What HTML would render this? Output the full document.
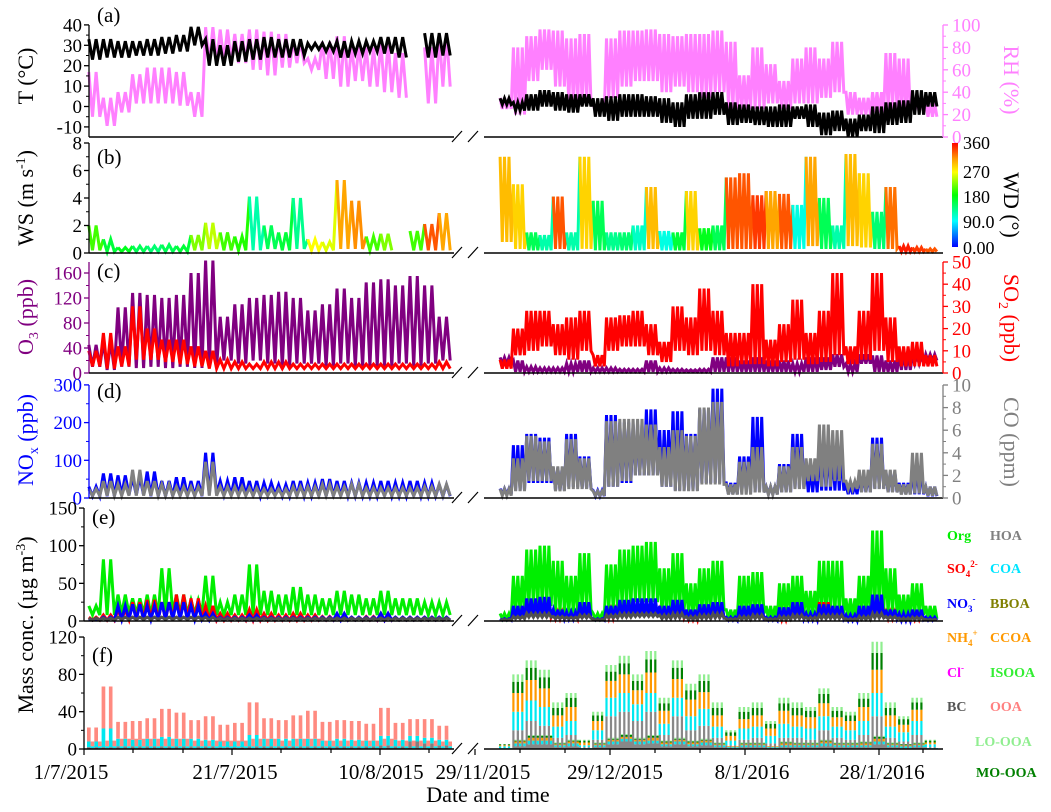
<!DOCTYPE html>
<html><head><meta charset="utf-8"><style>
html,body{margin:0;padding:0;background:#fff;}
svg{display:block;font-family:"Liberation Serif",serif;}
</style></head><body>
<svg id="chart" width="1051" height="812" viewBox="0 0 1051 812" xmlns="http://www.w3.org/2000/svg">
<defs>
<linearGradient id="wdgrad" x1="0" y1="1" x2="0" y2="0">
<stop offset="0" stop-color="#0000ff"/><stop offset="0.25" stop-color="#00ffff"/><stop offset="0.5" stop-color="#00ff00"/><stop offset="0.72" stop-color="#ffff00"/><stop offset="0.85" stop-color="#ff9900"/><stop offset="1" stop-color="#ff0000"/>
</linearGradient>
</defs>
<g id="marks"></g>
<g id="axes"></g>
<g font-family="Liberation Serif, serif" font-size="22">
<text transform="translate(33,76) rotate(-90)" text-anchor="middle">T (°C)</text>
<text transform="translate(33,198) rotate(-90)" text-anchor="middle">WS (m s<tspan font-size="14" dy="-8">-1</tspan><tspan dy="8">)</tspan></text>
<text transform="translate(33,317) rotate(-90)" text-anchor="middle" fill="#800080">O<tspan font-size="14" dy="5">3</tspan><tspan dy="-5"> (ppb)</tspan></text>
<text transform="translate(33,440) rotate(-90)" text-anchor="middle" fill="#0000ff">NO<tspan font-size="14" dy="5">x</tspan><tspan dy="-5"> (ppb)</tspan></text>
<text transform="translate(33,625) rotate(-90)" text-anchor="middle">Mass conc. (µg m<tspan font-size="14" dy="-8">-3</tspan><tspan dy="8">)</tspan></text>
<text transform="translate(1004,80) rotate(90)" text-anchor="middle" fill="#ff80ff">RH (%)</text>
<text transform="translate(1004,205) rotate(90)" text-anchor="middle">WD (°)</text>
<text transform="translate(1004,318) rotate(90)" text-anchor="middle" fill="#ff0000">SO<tspan font-size="14" dy="5">2</tspan><tspan dy="-5"> (ppb)</tspan></text>
<text transform="translate(1004,442) rotate(90)" text-anchor="middle" fill="#808080">CO (ppm)</text>
</g>
<g font-family="Liberation Serif, serif" font-size="14" font-weight="bold">
<text x="947" y="540" fill="#00ee00">Org</text>
<text x="990" y="540" fill="#808080">HOA</text>
<text x="947" y="573" fill="#ff0000">SO<tspan font-size="9" dy="4">4</tspan><tspan font-size="9" dy="-10">2-</tspan></text>
<text x="990" y="573" fill="#00e5ff">COA</text>
<text x="947" y="608" fill="#0000ff">NO<tspan font-size="9" dy="4">3</tspan><tspan font-size="9" dy="-10">-</tspan></text>
<text x="990" y="608" fill="#808000">BBOA</text>
<text x="947" y="642" fill="#ff9900">NH<tspan font-size="9" dy="4">4</tspan><tspan font-size="9" dy="-10">+</tspan></text>
<text x="990" y="642" fill="#ff9900">CCOA</text>
<text x="947" y="677" fill="#ff00ff">Cl<tspan font-size="9" dy="-6">-</tspan></text>
<text x="990" y="677" fill="#33ee33">ISOOA</text>
<text x="947" y="711" fill="#555555">BC</text>
<text x="990" y="711" fill="#ff8080">OOA</text>
<text x="975" y="746" fill="#90ee90">LO-OOA</text>
<text x="976" y="777" fill="#008000">MO-OOA</text>
</g>
</svg>
<script>
const tHiL=[33,33,32,32,33,34,35,39,33,30,32,33,34,33,33,31,31,32,32,32,34,34,null,36,36];
const tLoL=[23,24,24,25,25,26,27,30,20,20,22,23,24,24,25,28,27,24,26,27,26,24,null,24,25];
const rhHiL=[58,35,40,56,62,62,58,40,98,96,92,96,94,92,86,70,85,90,82,80,85,75,null,80,92];
const rhLoL=[18,10,22,30,30,30,28,18,66,68,66,60,55,62,66,60,52,45,50,45,40,35,null,30,45];
const tHiR=[4,2,6,8,7,6,6,4,5,6,6,5,4,2,6,7,7,2,1,0,0,1,0,1,-3,-2,-6,-4,0,2,3,8,7];
const tLoR=[1,-2,-2,0,-2,-3,0,-5,-7,-5,-5,-5,-8,-10,-6,-6,-4,-9,-8,-9,-10,-10,-6,-10,-14,-12,-15,-12,-13,-9,-8,-4,0];
const rhHiR=[35,80,90,96,95,88,92,30,88,95,95,96,92,90,92,92,95,85,55,80,65,50,70,80,70,85,40,35,40,75,70,35,30];
const rhLoR=[25,20,50,60,45,30,30,22,35,45,50,50,40,45,40,35,40,25,25,25,30,25,30,30,35,40,20,20,22,25,20,22,18];
const wsHiL=[2.0,1.0,0.4,0.5,0.5,0.6,0.5,1.3,2.2,1.5,1.2,4.1,2.0,1.5,4.0,1.0,0.8,5.3,3.8,1.2,1.4,null,1.6,2.1,2.9];
const wsLoL=[0.2,0.1,0.1,0.1,0.1,0.1,0.1,0.2,0.3,0.2,0.2,0.2,0.3,0.2,0.3,0.2,0.2,0.3,0.3,0.2,0.2,null,0.2,0.2,0.2];
const wdL=[200,160,170,150,140,150,160,220,240,200,190,120,150,160,130,260,250,300,310,200,220,null,200,330,300];
const wsHiR=[7.0,5.0,1.5,1.3,4.1,1.5,7.0,3.8,1.5,1.5,2.0,4.8,1.6,1.5,4.5,1.8,2.0,5.5,5.8,4.2,4.5,4.3,3.5,7.0,4.0,2.0,7.2,5.8,3.0,4.8,0.5,0.4,0.3];
const wsLoR=[0.8,0.3,0.2,0.2,0.3,0.2,0.3,0.2,0.2,0.2,0.2,0.3,0.2,0.2,0.2,0.2,0.2,0.3,0.3,0.3,0.3,0.3,0.3,0.5,0.3,0.3,0.5,0.4,0.3,0.3,0.1,0.1,0.1];
const wdR=[290,280,150,120,330,120,280,150,130,140,110,290,100,160,280,170,150,330,330,340,300,330,100,300,150,120,290,280,140,320,350,340,330];
const o3HiL=[45,50,105,128,125,120,125,160,180,90,110,120,125,130,120,100,110,135,120,145,150,140,155,140,90];
const o3LoL=[10,5,10,8,10,8,10,8,10,20,15,20,15,10,15,15,10,15,10,10,10,15,10,15,20];
const so2HiL=[10,18,12,30,20,15,15,12,10,6,5,4,5,5,4,4,4,4,4,4,4,4,4,4,5];
const so2LoL=[3,2,3,6,6,5,4,3,2,2,2,2,2,2,2,2,2,2,2,2,2,2,2,2,2];
const o3HiR=[25,20,10,8,8,15,20,8,8,6,6,20,8,6,5,6,25,25,20,25,20,20,15,25,25,30,15,30,28,20,30,28,30];
const o3LoR=[15,2,2,2,2,2,2,2,2,2,2,2,2,2,2,2,2,2,2,2,2,2,2,2,5,10,2,15,2,2,5,15,20];
const so2HiR=[6,20,28,28,22,25,28,8,25,26,28,22,14,30,25,38,28,18,18,40,15,22,33,18,28,45,12,28,45,25,12,14,8];
const so2LoR=[2,8,10,12,8,6,10,3,10,12,12,8,5,10,8,10,8,3,4,4,3,5,6,4,5,8,4,6,10,5,3,3,3];
const noxHiL=[30,65,60,55,70,45,55,45,120,45,55,45,40,35,45,40,50,45,40,40,45,40,45,40,35];
const noxLoL=[5,5,8,8,5,5,5,5,10,8,8,5,8,5,5,5,5,5,5,5,5,5,5,5,5];
const coHiL=[0.8,1.5,1.2,2.5,1.5,1.2,1.0,1.0,3.2,1.0,1.0,0.9,0.8,0.8,1.0,1.0,1.2,1.0,1.2,0.9,0.9,0.9,0.9,1.0,1.2];
const coLoL=[0.2,0.2,0.2,0.2,0.2,0.2,0.2,0.2,0.2,0.2,0.2,0.2,0.2,0.2,0.2,0.2,0.2,0.2,0.2,0.2,0.2,0.2,0.2,0.2,0.2];
const noxHiR=[25,140,170,160,80,170,110,20,220,200,195,235,180,230,170,235,290,40,110,215,30,90,170,80,140,120,35,60,160,70,40,80,30];
const noxLoR=[10,20,40,40,20,30,25,5,30,40,60,60,30,20,20,40,40,10,15,15,10,15,25,15,20,20,10,15,25,15,10,10,5];
const coHiR=[0.8,3.5,5.5,5.0,2.8,5.2,3.5,0.6,6.8,7.0,7.0,6.5,4.5,6.0,5.5,8.0,8.5,1.2,3.2,4.5,1.0,2.8,4.5,3.5,6.5,6.0,1.5,2.5,4.8,2.5,1.2,4.0,1.0];
const coLoR=[0.2,0.6,1.5,1.5,0.6,0.8,0.8,0.2,1.0,1.5,2.0,2.0,1.0,0.6,0.6,1.2,1.2,0.3,0.3,0.5,0.3,0.5,0.8,1.5,1.0,1.5,0.8,0.5,0.8,0.5,0.3,0.4,0.2];
const orgHiL=[20,82,35,30,35,70,35,28,60,25,35,75,40,35,45,35,30,40,35,30,40,30,30,25,25];
const orgLoL=[8,8,10,10,8,10,10,10,8,8,8,8,8,8,8,8,8,8,8,8,8,8,8,8,8];
const so4HiL=[5,8,15,25,28,25,35,30,20,10,8,15,10,8,10,8,6,8,5,6,10,5,5,5,5];
const no3HiL=[3,5,20,22,20,25,25,20,10,5,5,8,5,5,5,5,5,10,5,5,10,5,5,5,5];
const bcHiL=[4,4,5,5,5,5,5,5,5,4,4,4,4,4,4,4,4,4,4,4,4,4,4,4,4];
const specLoL=[1,1,2,2,2,2,2,2,1,1,1,1,1,1,1,1,1,1,1,1,1,1,1,1,1];
const orgHiR=[10,60,95,100,80,60,90,10,75,95,100,105,70,90,50,70,80,15,60,65,20,50,60,40,80,80,30,60,120,70,35,50,20];
const orgLoR=[3,10,20,20,10,10,15,3,15,20,25,25,10,15,8,10,15,3,8,10,3,8,10,8,10,10,5,8,15,10,5,8,3];
const so4HiR=[2,15,25,28,12,10,20,2,15,22,25,25,15,22,10,18,20,3,15,18,3,12,20,8,25,18,5,15,30,12,8,10,3];
const no3HiR=[3,20,30,32,15,12,25,3,20,28,30,30,20,28,15,22,25,5,20,22,5,18,25,10,22,20,8,20,35,15,10,15,5];
const bcHiR=[2,6,10,10,6,5,8,2,8,10,10,10,8,10,6,8,10,3,6,8,3,6,8,5,8,8,3,6,10,6,4,5,2];
const specLoR=[1,3,5,5,3,3,4,1,4,5,6,6,3,4,2,3,4,1,2,3,1,2,3,2,3,3,1,2,4,3,1,2,1];
const hoaHiL=[2,2,3,3,3,3,3,3,3,2,2,3,3,3,3,3,3,3,3,3,4,3,8,6,4];
const hoaLoL=[1,1,1,1,1,1,1,1,1,1,1,1,1,1,1,1,1,1,1,1,1,1,1,1,1];
const coaHiL=[6,20,8,7,8,10,8,8,7,6,6,12,8,8,8,8,6,8,7,6,10,7,6,6,6];
const coaLoL=[2,2,2,2,2,2,2,2,2,2,2,2,2,2,2,2,2,2,2,2,2,2,2,2,2];
const ooaHiL=[15,45,18,20,22,30,28,20,25,18,20,35,22,20,25,30,20,20,20,18,30,18,18,20,15];
const ooaLoL=[5,6,8,8,8,8,8,6,6,6,6,8,8,6,8,8,6,6,6,6,8,6,6,6,5];
const hoaHiR=[1,20,30,25,12,15,2,10,35,40,30,40,15,35,20,25,12,4,10,12,6,12,12,10,20,12,10,15,35,12,8,15,2];
const hoaLoR=[0,3,5,5,2,3,0,2,5,8,5,6,3,5,3,4,2,1,2,2,1,2,2,2,3,2,2,2,5,2,1,2,0];
const coaHiR=[2,20,22,20,12,15,2,10,20,20,18,20,12,20,15,18,12,5,12,12,8,15,12,12,15,12,10,15,25,12,10,15,3];
const coaLoR=[1,3,4,4,2,3,1,2,3,3,3,3,2,3,2,3,2,1,2,2,1,2,2,2,3,2,2,2,3,2,2,2,1];
const ccoaHiR=[1,20,22,20,12,15,3,10,18,20,15,22,14,20,18,18,12,5,10,12,8,14,12,12,14,10,10,15,25,12,8,12,2];
const ccoaLoR=[0,2,3,3,1,2,0,1,2,2,2,3,2,2,2,2,1,1,1,1,1,2,1,1,2,1,1,2,3,1,1,1,0];
const mooaHiR=[1,12,13,12,8,10,2,6,10,12,10,14,8,12,10,12,8,4,8,8,5,8,8,7,10,7,6,9,18,8,6,8,2];
const mooaLoR=[0,1,2,2,1,1,0,1,1,2,1,2,1,1,1,1,1,0,1,1,0,1,1,1,1,1,1,1,2,1,1,1,0];
const looaHiR=[0,8,8,8,6,5,1,4,7,8,7,9,6,8,7,7,6,2,5,6,3,6,6,4,6,4,4,6,12,6,3,5,1];
const looaLoR=[0,1,1,1,1,1,0,1,1,1,1,1,1,1,1,1,1,0,1,1,0,1,1,1,1,1,1,1,1,1,0,1,0];
const xLeftTicks=["1/7/2015","21/7/2015","10/8/2015"];
const xRightTicks=["29/11/2015","29/12/2015","8/1/2016","28/1/2016"];

const NS="http://www.w3.org/2000/svg";
const marks=document.getElementById('marks'), axes=document.getElementById('axes');
const SEG={L:{x0:87,x1:452,n:25,cyc:2},R:{x0:499,x1:938,n:33,cyc:3}};
function xAt(seg,t){const s=SEG[seg];return s.x0+(s.x1-s.x0)*t/s.n;}
const yT=v=>106.5-v*2.04, yRH=v=>137-v*1.12, yWS=v=>253-v*13.75, yO3=v=>373-v*0.625, ySO2=v=>373-v*2.22,
      yNOx=v=>498-v*0.377, yCO=v=>498-v*11.3, yE=v=>621-v*0.753, yF=v=>749-v*0.933;
function el(tag,attrs,parent){const e=document.createElementNS(NS,tag);for(const k in attrs)e.setAttribute(k,attrs[k]);(parent||marks).appendChild(e);return e;}
function wdColor(d){const stops=[[0,[0,0,255]],[90,[0,255,255]],[180,[0,255,0]],[260,[255,255,0]],[306,[255,153,0]],[360,[255,0,0]]];
 for(let i=1;i<stops.length;i++){if(d<=stops[i][0]){const a=stops[i-1],b=stops[i],f=(d-a[0])/(b[0]-a[0]);return 'rgb('+a[1].map((c,k)=>Math.round(c+(b[1][k]-c)*f)).join(',')+')';}}return 'rgb(255,0,0)';}
function zigPts(seg,hi,lo,yf,i){const s=SEG[seg],p=[];for(let c=0;c<s.cyc;c++){p.push([xAt(seg,i+(c+0.25)/s.cyc),yf(hi[i])]);p.push([xAt(seg,i+(c+0.75)/s.cyc),yf(lo[i])]);}return p;}
function zig(seg,hi,lo,yf,color,w,name){
 let cur=[];const flush=()=>{if(cur.length>1){const pl=el('polyline',{points:cur.map(p=>p[0].toFixed(1)+','+p[1].toFixed(1)).join(' '),fill:'none',stroke:color,'stroke-width':w,'stroke-linejoin':'miter'});
 
 }cur=[];};
 for(let i=0;i<hi.length;i++){if(hi[i]===null){flush();continue;}cur=cur.concat(zigPts(seg,hi,lo,yf,i));}flush();}
function zigColored(seg,hi,lo,wd,yf,name){
 for(let i=0;i<hi.length;i++){if(hi[i]===null)continue;let p=zigPts(seg,hi,lo,yf,i);
  if(i+1<hi.length&&hi[i+1]!==null)p.push(zigPts(seg,hi,lo,yf,i+1)[0]);
  const pl=el('polyline',{points:p.map(q=>q[0].toFixed(1)+','+q[1].toFixed(1)).join(' '),fill:'none',stroke:wdColor(wd[i]),'stroke-width':3});
  
  }}
function stack(seg,comps,yf,name){
 const s=SEG[seg],n=comps[0][0].length,hw=(s.x1-s.x0)/s.n/s.cyc/4;
 const xs=[],vals=comps.map(()=>[]);
 for(let i=0;i<n;i++)for(let c=0;c<s.cyc;c++)for(let h=0;h<2;h++){xs.push(xAt(seg,i+(c+0.25+h*0.5)/s.cyc));comps.forEach((cp,k)=>vals[k].push(h?cp[1][i]:cp[0][i]));}
 let base=xs.map(()=>0);
 comps.forEach((cp,k)=>{const top=base.map((b,j)=>b+vals[k][j]);const pts=[];
  xs.forEach((x,j)=>{pts.push([x-hw,yf(top[j])],[x+hw,yf(top[j])]);});
  for(let j=xs.length-1;j>=0;j--){pts.push([xs[j]+hw,yf(base[j])],[xs[j]-hw,yf(base[j])]);}
  const pg=el('polygon',{points:pts.map(q=>q[0].toFixed(1)+','+q[1].toFixed(1)).join(' '),fill:cp[2],stroke:'none'});
  
  
  base=top;});}

zig('L',rhHiL,rhLoL,yRH,'#ff80ff',3,'rh-line');zig('R',rhHiR,rhLoR,yRH,'#ff80ff',3,'rh-line');
zig('L',tHiL,tLoL,yT,'#000',3,'temperature-line');zig('R',tHiR,tLoR,yT,'#000',3,'temperature-line');
zigColored('L',wsHiL,wsLoL,wdL,yWS,'wind-speed-line');zigColored('R',wsHiR,wsLoR,wdR,yWS,'wind-speed-line');
zig('L',o3HiL,o3LoL,yO3,'#800080',3,'o3-line');zig('R',o3HiR,o3LoR,yO3,'#800080',3,'o3-line');
zig('L',so2HiL,so2LoL,ySO2,'#ff0000',3,'so2-line');zig('R',so2HiR,so2LoR,ySO2,'#ff0000',3,'so2-line');
zig('L',noxHiL,noxLoL,yNOx,'#0000ff',3,'nox-line');zig('R',noxHiR,noxLoR,yNOx,'#0000ff',3,'nox-line');
zig('L',coHiL,coLoL,yCO,'#808080',3,'co-line');zig('R',coHiR,coLoR,yCO,'#808080',3,'co-line');
zig('L',orgHiL,orgLoL,yE,'#00ee00',3,'org-line');zig('R',orgHiR,orgLoR,yE,'#00ee00',3,'org-line');
zig('L',so4HiL,specLoL,yE,'#ff0000',3,'so4-line');zig('R',so4HiR,specLoR,yE,'#ff0000',3,'so4-line');
zig('L',no3HiL,specLoL,yE,'#0000ff',3,'no3-line');zig('R',no3HiR,specLoR,yE,'#0000ff',3,'no3-line');
zig('L',bcHiL,specLoL,yE,'#505050',3,'bc-line');zig('R',bcHiR,specLoR,yE,'#505050',3,'bc-line');
stack('L',[[hoaHiL,hoaLoL,'#808080','hoa'],[coaHiL,coaLoL,'#00e8f0','coa'],[ooaHiL,ooaLoL,'#ff8a80','ooa']],yF,'pmf-area');
stack('R',[[hoaHiR,hoaLoR,'#888888','hoa'],[coaHiR,coaLoR,'#00e8f0','coa'],[ccoaHiR,ccoaLoR,'#ff9900','ccoa'],[mooaHiR,mooaLoR,'#008000','mo-ooa'],[looaHiR,looaLoR,'#90ee90','lo-ooa']],yF,'pmf-area');

function ln(x1,y1,x2,y2,c,w,name){const l=el('line',{x1,y1,x2,y2,stroke:c,'stroke-width':w||1.3},axes);
 
 return l;}
function tx(x,y,s,opt,name){const t=el('text',Object.assign({x,y,'font-size':19,fill:'#000'},opt||{}),axes);t.textContent=s;
 
 return t;}
const panels=[
 {ax:89,top:25,bot:137,lab:'(a)',ly:22,lt:[[40,'40'],[30,'30'],[20,'20'],[10,'10'],[0,'0'],[-10,'-10']],ly_:yT,lminor:[35,25,15,5,-5],lc:'#000',
  r:{f:yRH,c:'#ff80ff',t:[[100,'100'],[80,'80'],[60,'60'],[40,'40'],[20,'20'],[0,'0']],minor:[90,70,50,30,10]}},
 {ax:89,top:143,bot:253,lab:'(b)',ly:164,lt:[[8,'8'],[6,'6'],[4,'4'],[2,'2'],[0,'0']],ly_:yWS,lminor:[7,5,3,1],lc:'#000'},
 {ax:89,top:262,bot:373,lab:'(c)',ly:278,lt:[[160,'160'],[120,'120'],[80,'80'],[40,'40'],[0,'0']],ly_:yO3,lminor:[140,100,60,20],lc:'#800080',
  r:{f:ySO2,c:'#ff0000',t:[[50,'50'],[40,'40'],[30,'30'],[20,'20'],[10,'10'],[0,'0']],minor:[45,35,25,15,5]}},
 {ax:89,top:385,bot:498,lab:'(d)',ly:398,lt:[[300,'300'],[200,'200'],[100,'100'],[0,'0']],ly_:yNOx,lminor:[250,150,50],lc:'#0000ff',
  r:{f:yCO,c:'#808080',t:[[10,'10'],[8,'8'],[6,'6'],[4,'4'],[2,'2'],[0,'0']],minor:[9,7,5,3,1]}},
 {ax:84,top:508,bot:621,lab:'(e)',ly:524,lt:[[150,'150'],[100,'100'],[50,'50'],[0,'0']],ly_:yE,lminor:[125,75,25],lc:'#000'},
 {ax:84,top:637,bot:749,lab:'(f)',ly:662,lt:[[120,'120'],[80,'80'],[40,'40'],[0,'0']],ly_:yF,lminor:[100,60,20],lc:'#000'}];
panels.forEach((p,pi)=>{
 ln(p.ax,p.top,p.ax,p.bot,p.lc,1.3,'y-axis-left');
 p.lt.forEach(([v,s])=>{const y=p.ly_(v);ln(p.ax-5,y,p.ax,y,p.lc,1.3,'y-tick');tx(p.ax-7,y+6.5,s,{'text-anchor':'end',fill:p.lc},'y-tick-label');});
 p.lminor.forEach(v=>{const y=p.ly_(v);ln(p.ax-3,y,p.ax,y,p.lc,1,'y-minor-tick');});
 ln(p.ax,p.bot,454,p.bot,'#000',1.6,'x-axis-line');ln(484,p.bot,943,p.bot,'#000',1.6,'x-axis-line');
 ln(452,p.bot+5,462,p.bot-6,'#000',1.2,'axis-break');ln(468,p.bot+5,478,p.bot-6,'#000',1.2,'axis-break');
 tx(p.ax+8,p.ly,p.lab,{'font-size':21},'panel-label');
 if(p.r){ln(943,p.r.f(p.r.t[0][0]),943,p.bot,p.r.c,1.3,'y-axis-right');
  p.r.t.forEach(([v,s])=>{const y=p.r.f(v);ln(943,y,948,y,p.r.c,1.3,'y-right-tick');tx(952,y+6.5,s,{fill:p.r.c},'y-right-tick-label');});
  p.r.minor.forEach(v=>{const y=p.r.f(v);ln(943,y,946,y,p.r.c,1,'y-right-minor-tick');});}
});
const cb=el('rect',{x:952,y:143,width:6,height:104,fill:'url(#wdgrad)'},axes);


[['360',149],['270',178],['180',203],['90.0',228],['0.00',254]].forEach(([s,y])=>tx(963,y,s,{'font-size':18},'colorbar-label'));
const xTickL=[[84,1],[133,0],[183,0],[232,1],[281,0],[331,0],[380,1],[429,0]];
const xTickR=[[475,1],[520,0],[565,0],[610,1],[655,0],[700,0],[745,1],[790,0],[834,0],[879,1],[923,0]];
xTickL.concat(xTickR).forEach(([x,m])=>ln(x,749,x,749+(m?6:4),'#000',1.2,'x-tick'));
[[71,xLeftTicks[0]],[235,xLeftTicks[1]],[381,xLeftTicks[2]]].forEach(([x,s])=>tx(x,779,s,{'font-size':21,'text-anchor':'middle'},'x-tick-label'));
[[483,xRightTicks[0]],[615,xRightTicks[1]],[752,xRightTicks[2]],[882,xRightTicks[3]]].forEach(([x,s])=>tx(x,779,s,{'font-size':21,'text-anchor':'middle'},'x-tick-label'));
tx(488,802,'Date and time',{'font-size':22,'text-anchor':'middle'},'x-axis-title');
</script>
</body></html>
